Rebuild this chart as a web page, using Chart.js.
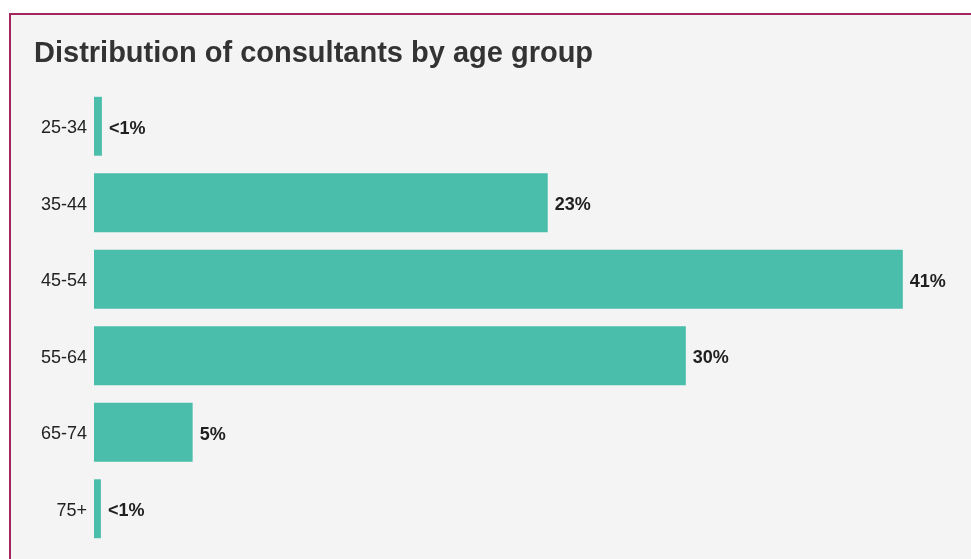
<!DOCTYPE html>
<html>
<head>
<meta charset="utf-8">
<script src="https://cdn.jsdelivr.net/npm/chart.js@4.4.1/dist/chart.umd.min.js"></script>
<style>
  html, body { margin: 0; padding: 0; background: #fff; overflow: hidden; }
  #panel {
    position: absolute; left: 9px; top: 13px; width: 990px; height: 580px;
    background: #f4f4f4; border-left: 2px solid #a3245e; border-top: 2px solid #a3245e;
  }
  #chart { position: absolute; left: 0; top: 0; }
</style>
</head>
<body>
<div id="panel"></div>
<canvas id="chart" width="971" height="559"></canvas>
<script>
const ageGroups = ['25-34', '35-44', '45-54', '55-64', '65-74', '75+'];
const shares = [0.4, 23, 41, 30, 5, 0.35];
const shareLabels = ['<1%', '23%', '41%', '30%', '5%', '<1%'];

const FONT = 'Arial, "Liberation Sans", Helvetica, sans-serif';

// writes the percentage just past the end of each bar
const barValues = {
  id: 'barValues',
  afterDatasetsDraw(chart) {
    const { ctx } = chart;
    const bars = chart.getDatasetMeta(0).data;
    ctx.save();
    ctx.font = 'bold 18px ' + FONT;
    ctx.fillStyle = '#1f1f1f';
    ctx.textAlign = 'left';
    ctx.textBaseline = 'middle';
    bars.forEach((bar, i) => {
      ctx.fillText(shareLabels[i], bar.x + 7, bar.y + 2.5);
    });
    ctx.restore();
  }
};

new Chart(document.getElementById('chart'), {
  type: 'bar',
  data: {
    labels: ageGroups,
    datasets: [{
      data: shares,
      backgroundColor: '#4abeaa',
      borderWidth: 0,
      barPercentage: 0.77,
      categoryPercentage: 1
    }]
  },
  options: {
    indexAxis: 'y',
    responsive: false,
    animation: false,
    layout: { padding: { left: 34, right: 9, top: 10, bottom: 12 } },
    scales: {
      x: { display: false, min: 0, max: 44 },
      y: {
        grid: { display: false, drawTicks: false },
        border: { display: false },
        ticks: {
          padding: 7,
          labelOffset: 2,
          color: '#222',
          font: { family: FONT, size: 18 }
        },
        afterFit(scale) {
          scale.width = 60;
          // labels sit inside their bands, no extra room needed above/below
          scale.paddingTop = 0;
          scale.paddingBottom = 0;
        }
      }
    },
    plugins: {
      legend: { display: false },
      tooltip: { enabled: false },
      title: {
        display: true,
        text: 'Distribution of consultants by age group',
        align: 'start',
        color: '#333',
        font: { family: FONT, size: 29, weight: 'bold' },
        padding: { top: 27, bottom: 16.2 }
      }
    }
  },
  plugins: [barValues]
});
</script>
</body>
</html>
